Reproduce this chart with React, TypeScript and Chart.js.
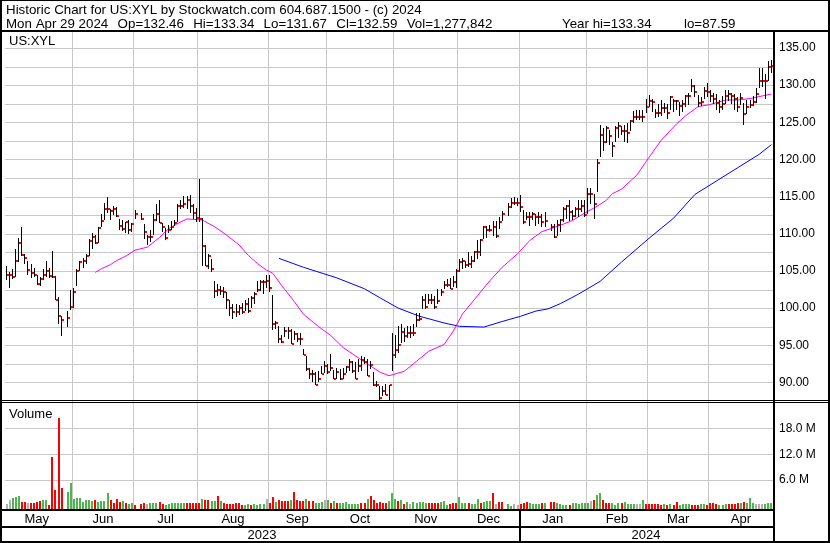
import React, { useEffect, useRef } from "react";
import { Chart, registerables } from "chart.js";

Chart.register(...registerables);

const FONT = "Arial, 'Liberation Sans', Helvetica, sans-serif";

const headerLine1 = "Historic Chart for US:XYL by Stockwatch.com 604.687.1500 - (c) 2024";
const headerFields = ["Mon Apr 29 2024", "Op=132.46", "Hi=133.34", "Lo=131.67", "Cl=132.59", "Vol=1,277,842", "Year hi=133.34", "lo=87.59"];
const symbolLabel = "US:XYL";
const volumeLabel = "Volume";

const monthNames = ["May", "Jun", "Jul", "Aug", "Sep", "Oct", "Nov", "Dec", "Jan", "Feb", "Mar", "Apr"];
const monthSlots = [22, 20, 21, 23, 19, 22, 21, 20, 22, 20, 20, 21];
const yearNames = ["2023", "2024"];
const yearFirstMonth = [0, 8];

const priceTicks = [90, 92.5, 95, 97.5, 100, 102.5, 105, 107.5, 110, 112.5, 115, 117.5, 120, 122.5, 125, 127.5, 130, 132.5, 135];
const volumeTicks = [6, 12, 18]; // millions

// daily highs
const highs: (number | null)[] = [
  105.6, 104.8, 105.3, 107.9, 109.5, 110.85, 107.3, 106.4, 106.0, 105.4, 104.4, 104.2, 105.2, 106.3, 105.4, 107.7, 104.3, 101.5, 98.9, null, 99.6, 102.5,
  102.7, 105.3, 106.4, 106.8, 107.3, 109.3, 110.1, 109.9, 110.9, 112.7, 114.1, 114.9, 113.3, 113.8, 113.6, 112.0, 111.8, 111.65, 111.9, 111.4,
  113.2, null, 112.8, 111.3, 109.9, 110.5, 112.6, 114.05, 114.5, 111.45, 110.8, 111.2, 111.7, 111.9, 114.05, 114.5, 115.1, 115.1, 115.2, 113.95, 113.5,
  117.4, 112.1, 108.5, 107.3, 106.6, 103.7, 103.3, 103.0, 102.8, 102.2, 101.1, 100.5, 100.5, 100.4, 100.7, 101.1, 101.3, 101.6, 102.1, 103.6, 103.8, 103.8, 104.4,
  104.46, 101.7, 98.3, 97.65, 96.4, 97.5, 97.5, 97.2, 96.95, 96.7, 96.7, 94.5, 93.6, 92.0, 91.7, 91.35, 91.6, 92.25, 92.9,
  92.5, 93.8, 91.7, 91.9, 91.8, 92.0, 92.25, 93.15, 92.9, 92.7, 93.15, 93.5, 93.4, 93.15, 92.9, 91.35, 90.2, 89.55, 89.55, 89.8, 89.65, 96.7,
  96.4, 97.6, 97.9, 97.36, 97.6, 97.6, 97.8, 99.4, 99.4, 101.65, 101.95, 101.9, 101.9, 101.65, 102.55, 102.55, 103.7, 103.9, 104.1, 104.35, 105.25,
  106.6, 106.8, 106.4, 107.5, 107.0, 107.7, 109.15, 109.3, 111.1, 111.1, 111.2, 111.75, 111.75, 112.3, 113.0, null, 114.2, 114.8, 114.9, 114.8,
  115.2, 113.2, 112.9, 112.9, 112.9, 112.7, 112.9, 112.7, 112.9, null, 111.35, 111.35, 111.85, 112.0, 113.6, 113.85, 114.5, 113.15, 113.6, 114.5, 114.5, 114.5,
  116.1, 116.1, 115.4, 120.0, 124.7, 124.2, 124.45, 124.0, 122.4, 124.45, 125.1, 124.45, 124.7, 124.9, 125.36, 126.5, 126.7, 126.7, 126.7, 128.16,
  128.65, 128.2, 126.85, 127.5, 127.98, 127.6, 127.5, 128.5, 128.2, 128.0, 127.75, 128.0, 128.65, 128.9, 130.8, 130.0, 128.65, 128.4, 129.8, 130.25,
  129.4, 129.0, 128.8, 128.0, 128.6, 129.3, 129.3, 129.0, 128.8, 128.4, 128.9, 127.6, 128.0, 128.0, 128.5, 129.6, 132.3, 132.3, 131.5, 133.2, 133.34,
];

// daily lows
const lows: (number | null)[] = [
  103.75, 102.7, 103.9, 104.2, 106.25, 107.0, 106.0, 104.5, 104.1, 104.2, 103.1, 103.0, 103.75, 104.2, 104.1, 104.0, 101.1, 97.9, 96.2, null, 97.5, 99.8,
  100.0, 103.0, 105.0, 105.4, 106.0, 107.0, 108.0, 108.6, 108.7, 110.9, 111.9, 112.8, 111.9, 112.5, 112.3, 110.5, 110.4, 110.1, 110.0, 110.2,
  112.0, null, 111.9, 109.3, 108.5, 108.9, 109.9, 111.7, 111.5, 110.3, 109.2, 110.1, 110.5, 111.0, 111.6, 113.3, 113.5, 113.3, 112.8, 112.0, 111.6,
  111.6, 105.6, 105.6, 105.3, 104.8, 101.4, 101.6, 101.8, 101.4, 99.9, 99.0, 98.5, 98.8, 99.1, 99.2, 99.6, 99.4, 100.0, 100.5, 102.2, 102.3, 101.9, 102.7,
  102.2, 97.0, 97.2, 95.3, 95.3, 96.1, 95.85, 95.2, 95.75, 95.4, 95.0, 93.7, 91.6, 90.45, 90.0, 89.6, 90.1, 91.1, 91.3,
  91.1, 91.6, 90.4, 90.45, 90.3, 90.45, 91.3, 91.6, 91.3, 90.45, 91.4, 91.6, 92.5, 90.8, 91.8, 89.5, 89.35, 87.7, 88.2, 88.35, 87.59, 91.6,
  93.3, 94.0, 95.3, 95.46, 96.0, 96.0, 96.2, 97.4, 98.3, 99.85, 99.9, 100.5, 100.6, 99.85, 100.5, 101.65, 102.55, 102.8, 102.55, 102.8, 102.7,
  104.8, 105.25, 105.4, 105.55, 105.4, 106.15, 106.6, 107.0, 109.3, 109.5, 110.2, 109.75, 109.5, 110.6, 111.75, null, 112.4, 113.5, 113.9, 113.8,
  112.9, 111.35, 111.8, 111.1, 111.8, 111.1, 111.3, 110.9, 110.9, null, 110.4, 109.5, 109.75, 110.2, 111.6, 112.0, 111.7, 111.9, 112.2, 112.2, 112.9, 112.3,
  112.7, 114.05, 112.0, 115.6, 120.4, 121.1, 122.2, 122.0, 120.4, 122.4, 122.9, 123.3, 122.4, 122.2, 123.77, 124.9, 125.36, 125.36, 125.1, 126.26,
  127.1, 126.4, 125.6, 125.7, 125.9, 126.3, 125.5, 126.6, 126.4, 126.6, 125.9, 126.4, 127.1, 127.3, 129.1, 128.4, 127.1, 127.2, 128.2, 128.4,
  127.8, 127.5, 126.7, 126.3, 126.6, 127.4, 127.9, 127.5, 126.6, 126.4, 127.3, 124.6, 126.1, 126.9, 127.2, 127.6, 129.6, 129.8, 128.2, 130.5, 131.67,
];

// daily closes
const closes: (number | null)[] = [
  104.5, 104.5, 104.2, 106.3, 108.8, 107.2, 106.7, 105.1, 104.7, 104.4, 103.2, 103.9, 104.4, 105.0, 104.3, 104.2, 101.1, 99.0, 98.4, null, 98.7, 100.2,
  102.2, 105.0, 106.2, 106.3, 107.0, 109.0, 109.6, 108.8, 110.75, 111.7, 113.3, 113.3, 113.1, 113.4, 112.4, 111.0, 110.6, 111.6, 110.5, 111.3,
  112.6, null, 112.0, 110.3, 109.6, 109.6, 111.8, 112.7, 111.5, 110.9, 109.5, 110.45, 110.9, 111.5, 113.7, 113.7, 113.95, 114.6, 113.7, 112.8, 112.1,
  112.0, 108.35, 105.7, 107.05, 105.2, 102.3, 102.4, 102.3, 102.2, 101.1, 100.0, 99.5, 99.5, 100.0, 99.5, 100.6, 99.65, 101.3, 101.85, 102.4, 103.55, 103.55, 103.7,
  102.75, 97.9, 98.0, 95.9, 95.5, 96.9, 96.9, 95.2, 96.5, 95.85, 95.85, 93.7, 91.8, 91.2, 91.2, 89.7, 90.45, 91.2, 92.2,
  91.35, 92.0, 90.4, 91.35, 90.4, 91.1, 92.1, 92.7, 91.6, 90.45, 92.2, 93.05, 92.8, 90.8, 92.35, 89.65, 89.7, 87.9, 88.9, 88.35, 89.65, 93.7,
  94.3, 95.0, 96.8, 96.2, 96.7, 96.7, 96.7, 98.4, 98.5, 101.1, 100.2, 101.1, 101.1, 100.2, 101.0, 102.1, 103.1, 103.1, 102.6, 103.45, 105.0,
  106.2, 106.3, 105.8, 106.0, 106.3, 107.6, 107.6, 109.1, 110.9, 110.55, 110.55, 110.9, 109.65, 111.6, 112.6, null, 113.55, 114.2, 114.2, 114.2,
  113.6, 111.6, 112.25, 112.2, 112.7, 112.2, 112.3, 111.6, 111.7, null, 110.9, 109.6, 111.25, 111.8, 113.4, 113.75, 112.9, 112.45, 113.3, 113.3, 113.75, 112.5,
  115.3, 115.3, 114.0, 119.55, 123.3, 122.4, 124.3, 123.2, 121.75, 124.2, 124.45, 123.8, 123.8, 123.55, 125.13, 125.67, 125.67, 125.67, 125.67, 127.07,
  127.85, 127.7, 126.2, 126.25, 126.9, 126.9, 126.2, 128.4, 127.9, 127.9, 127.25, 127.5, 128.55, 128.55, 129.9, 129.1, 127.65, 127.75, 129.25, 129.1,
  128.6, 128.2, 127.6, 127.0, 127.5, 128.5, 128.8, 128.5, 128.2, 127.1, 128.25, 126.1, 127.0, 127.3, 127.7, 128.8, 130.6, 130.6, 130.6, 132.4, 132.59,
];

// volume, read on the chart's axis (millions)
const volumes: (number | null)[] = [
  0.42, 1.35, 1.74, 1.97, 2.28, 0.88, 0.88, 0.65, 0.65, 0.65, 0.88, 1.19, 1.35, 1.35, 0.19, 11.43, 3.67, 20.35, 4.07, null, 3.29, 5.3,
  1.66, 1.81, 1.81, 0.88, 1.35, 1.35, 1.19, 1.35, 0.88, 1.12, 1.12, 2.98, 1.35, 0.65, 1.58, 0.88, 1.19, 0.65, 0.5, 0.65,
  0.19, null, 0.42, 0.65, 0.42, 0.65, 0.65, 0.65, 0.88, 0.42, 0.19, 0.42, 0.65, 0.65, 0.65, 0.65, 0.65, 0.65, 0.65, 0.65, 0.65,
  0.65, 1.58, 1.35, 1.35, 1.12, 1.12, 2.28, 1.12, 0.65, 0.42, 0.42, 0.42, 0.65, 0.65, 0.19, 0.19, 0.42, 0.19, 0.42, 0.19, 0.42, 0.42, 1.58,
  0.65, 2.05, 0.88, 1.43, 1.19, 1.19, 1.19, 1.35, 3.21, 1.35, 1.19, 1.19, 1.58, 1.19, 1.19, 0.65, 0.65, 0.88, 1.35,
  1.35, 0.65, 1.12, 0.65, 0.65, 0.65, 0.88, 0.42, 0.42, 0.42, 0.42, 0.65, 0.65, 1.58, 2.28, 1.35, 0.65, 0.88, 0.65, 0.65, 1.12, 2.98,
  1.58, 1.12, 1.35, 0.42, 0.88, 0.42, 0.88, 0.65, 0.88, 0.88, 0.65, 0.65, 0.65, 0.65, 0.65, 0.88, 1.12, 0.19, 0.42, 0.65, 0.65,
  2.05, 0.65, 0.65, 0.65, 0.42, 0.42, 1.58, 0.65, 0.88, 1.12, 1.12, 2.98, 0.42, 0.88, 0.88, null, 0.42, 0.02, 0.42, 0.19,
  0.42, 0.65, 0.88, 0.65, 0.42, 0.42, 0.42, 0.65, 0.65, null, 0.88, 0.88, 0.65, 0.42, 0.19, 0.19, 0.19, 0.65, 0.65, 0.42, 0.65, 0.65,
  0.65, 1.12, 1.35, 2.51, 2.98, 1.35, 0.65, 0.65, 0.65, 0.19, 0.65, 0.65, 0.88, 0.42, 0.42, 0.42, 0.42, 0.42, 1.35, 0.42,
  0.42, 0.42, 0.42, 0.42, 0.19, 0.42, 0.19, 0.42, 0.19, 0.88, 0.19, 0.42, 0.42, 0.42, 0.19, 0.19, 0.19, 0.42, 0.42, 0.19,
  0.65, 0.65, 0.42, 0.19, 0.19, 0.42, 0.42, 0.42, 0.42, 0.65, 0.65, 0.88, 0.65, 1.81, 0.65, 0.42, 0.42, 0.42, 0.42, 0.65, 0.57,
];

// 1 = up day, -1 = down day, 0 = unchanged
const volumeTrend = [
  0, 0, 1, 1, 1, -1, -1, 0, -1, -1, -1, -1, 1, 1, -1, -1, -1, -1, -1, 0, 1, 1,
  1, 1, 1, 1, 1, 1, 1, -1, 1, 1, 1, 1, -1, -1, -1, -1, 1, -1, 1, 1,
  -1, 0, -1, -1, 0, 1, 1, 1, -1, -1, 1, 1, 1, 1, 1, 1, 1, -1, -1, -1, -1,
  -1, 1, -1, -1, 1, 1, -1, 1, -1, -1, -1, -1, -1, -1, -1, 1, 1, -1, 1, 1, 1, 1, 0,
  -1, -1, 1, -1, -1, -1, -1, 1, -1, -1, -1, -1, 1, -1, -1, 1, 1, 1, 0,
  1, -1, 1, -1, 1, 1, 1, 1, 1, 1, 1, -1, -1, 1, -1, -1, -1, -1, -1, -1, 1, 1,
  1, -1, 1, -1, 1, 0, 1, 1, 1, 1, 1, -1, -1, -1, -1, 1, 1, 1, -1, -1, -1,
  1, 1, 1, -1, 1, 1, 1, -1, 1, 1, 1, -1, 0, -1, -1, 0, 1, 1, 0, 0,
  -1, -1, -1, 1, 1, 1, 1, -1, 1, 0, -1, -1, 1, 1, 1, 1, -1, 1, 1, 1, 1, 1,
  1, 0, -1, 1, 1, -1, -1, -1, 1, 1, 1, -1, 1, 1, 1, 1, 0, 0, 1, -1,
  -1, -1, -1, -1, -1, 1, -1, 1, -1, -1, 1, 1, 1, 1, -1, -1, -1, 1, 1, -1,
  -1, -1, -1, 1, 1, 1, -1, -1, -1, -1, 1, -1, 1, 1, 1, 0, 0, 0, 1, 1, 1,
];

// short moving average (magenta), sampled at bar index
const maShortIdx = [29, 31, 34, 36, 39, 42, 46, 50, 53, 56, 59, 64, 68, 72, 76, 79, 82, 85, 87, 90, 94, 97, 102, 106, 110, 115, 119, 122, 125, 130, 134, 138, 143, 146, 149, 154, 158, 162, 167, 171, 175, 178, 182, 185, 189, 193, 196, 198, 201, 206, 210, 214, 219, 222, 226, 230, 235, 239, 243, 250];
const maShortVal = [104.8, 105.3, 105.85, 106.4, 107.0, 107.8, 108.2, 109.5, 110.7, 111.4, 112.0, 111.85, 110.95, 109.8, 108.5, 107.1, 106.0, 105.1, 104.7, 103.0, 100.9, 99.2, 97.5, 96.3, 94.7, 93.3, 92.2, 91.4, 90.9, 91.5, 92.85, 94.2, 95.1, 96.9, 99.2, 101.7, 103.7, 105.5, 107.3, 109.1, 110.3, 110.7, 111.3, 111.8, 112.8, 113.7, 114.5, 115.4, 116.0, 117.9, 120.3, 122.6, 124.8, 125.9, 127.1, 127.4, 128.0, 128.0, 128.2, 128.8];

// long moving average (blue), sampled at bar index
const maLongIdx = [89, 97, 108, 117, 122, 128, 135, 143, 148, 156, 162, 168, 173, 177, 181, 187, 194, 201, 210, 218, 225, 232, 239, 246, 250];
const maLongVal = [106.7, 105.5, 104.06, 102.6, 101.4, 100.0, 98.9, 98.0, 97.55, 97.45, 98.2, 98.9, 99.6, 99.9, 100.6, 101.9, 103.6, 106.2, 109.4, 112.1, 115.3, 117.1, 118.9, 120.7, 122.0];

const PRICE_MIN = 87.5;
const PRICE_MAX = 137.153;
const VOL_MIN = -0.744;
const VOL_MAX = 24.37;

export default function App() {
  const ref = useRef<HTMLCanvasElement>(null);

  useEffect(() => {
    document.body.style.margin = "0";
    const canvas = ref.current!;
    const n = highs.length;

    const monthStart: number[] = [];
    let acc = 0;
    for (const c of monthSlots) {
      monthStart.push(acc);
      acc += c;
    }

    const tickImg = document.createElement("canvas");
    tickImg.width = 7;
    tickImg.height = 2;
    const tctx = tickImg.getContext("2d")!;
    tctx.fillStyle = "#ff0000";
    tctx.fillRect(4, 0, 2, 2);

    const GRID = "#c8c8c8";
    const volColors = volumeTrend.map((t) => (t > 0 ? "#4cb54c" : t < 0 ? "#ff0000" : "#b0b0b0"));
    const headerX = [6, 117.6, 193.2, 263.6, 336.3, 406.7, 562, 684];

    const plugin = {
      id: "stockFrame",
      beforeDraw(chart: any) {
        const ctx = chart.ctx;
        ctx.save();
        ctx.fillStyle = "#ffffff";
        ctx.fillRect(0, 0, chart.width, chart.height);
        ctx.restore();
      },
      beforeDatasetsDraw(chart: any) {
        const { ctx, chartArea, scales } = chart;
        ctx.save();
        ctx.fillStyle = GRID;
        const L = Math.round(chartArea.left);
        const R = Math.round(chartArea.right);
        for (const v of priceTicks) {
          const py = Math.round(scales.y.getPixelForValue(v));
          ctx.fillRect(L, py, R - L, 1);
        }
        for (const v of volumeTicks) {
          const py = Math.round(scales.vol.getPixelForValue(v));
          ctx.fillRect(L, py, R - L, 1);
        }
        ctx.restore();

        chart.data.datasets.forEach((ds: any, di: number) => {
          const meta = chart.getDatasetMeta(di);
          meta.data.forEach((el: any) => {
            if (ds.kind === "range") {
              el.x = Math.floor(el.x) + 0.5;
              el.y = Math.round(el.y);
              el.base = Math.round(el.base);
            } else if (ds.kind === "vol") {
              el.x = Math.round(el.x);
              el.y = Math.round(el.y);
              el.base = Math.round(el.base);
            } else if (ds.kind === "close") {
              el.x = Math.floor(el.x) + 0.5;
              el.y = Math.round(el.y);
            }
          });
        });
      },
      afterDraw(chart: any) {
        const { ctx, chartArea, scales } = chart;
        const W = chart.width;
        const H = chart.height;
        const R = Math.round(chartArea.right);
        const xs = scales.x;
        ctx.save();
        ctx.fillStyle = "#000";
        const fr = (x: number, y: number, w: number, h: number) => ctx.fillRect(x, y, w, h);
        fr(0, 0, W, 1);
        fr(0, 0, 2, H);
        fr(W - 2, 0, 2, H);
        fr(0, H - 2, W, 2);
        fr(0, 30, W, 2);
        fr(R, 30, 2, H - 30);
        const sepY = Math.round(scales.y.bottom);
        fr(0, sepY - 1, W, 1);
        fr(0, sepY + 1, W, 1);
        const vb = Math.round(chartArea.bottom);
        fr(0, vb, R + 2, 2);
        fr(0, vb + 17, R + 2, 2);
        for (let k = 1; k < yearFirstMonth.length; k++) {
          const px = Math.round(xs.getPixelForValue(monthStart[yearFirstMonth[k]] - 0.5));
          fr(px, vb, 2, H - vb);
        }

        ctx.fillStyle = "#000";
        ctx.textBaseline = "alphabetic";
        ctx.textAlign = "left";
        ctx.font = `13.33px ${FONT}`;
        ctx.fillText(headerLine1, 6, 14);
        headerFields.forEach((t, i) => ctx.fillText(t, headerX[i], 28));
        ctx.font = `13px ${FONT}`;
        ctx.fillText(symbolLabel, 9, 45);
        ctx.fillText(volumeLabel, 9, 418);

        ctx.textAlign = "center";
        for (let m = 0; m < monthNames.length; m++) {
          const a = xs.getPixelForValue(monthStart[m] - 0.5);
          const b = xs.getPixelForValue(monthStart[m] + monthSlots[m] - 0.5);
          ctx.fillText(monthNames[m], (a + b) / 2 - (m === 0 ? 2 : 0), vb + 14);
        }
        for (let k = 0; k < yearNames.length; k++) {
          const a = xs.getPixelForValue(monthStart[yearFirstMonth[k]] - 0.5);
          const endMonth = k + 1 < yearFirstMonth.length ? yearFirstMonth[k + 1] : monthNames.length;
          const b = endMonth < monthNames.length ? xs.getPixelForValue(monthStart[endMonth] - 0.5) : R;
          ctx.fillText(yearNames[k], (a + b) / 2, H - 4);
        }
        ctx.restore();
      },
    };

    const chart = new Chart(canvas, {
      type: "bar",
      data: {
        datasets: [
          {
            type: "line",
            label: "MA short",
            data: maShortIdx.map((x, i) => ({ x, y: maShortVal[i] })),
            borderColor: "#ff00ff",
            borderWidth: 1,
            pointRadius: 0,
            tension: 0,
            xAxisID: "x",
            yAxisID: "y",
            order: 5,
          } as any,
          {
            type: "line",
            label: "MA long",
            data: maLongIdx.map((x, i) => ({ x, y: maLongVal[i] })),
            borderColor: "#0000ff",
            borderWidth: 1,
            pointRadius: 0,
            tension: 0,
            xAxisID: "x",
            yAxisID: "y",
            order: 5,
          } as any,
          {
            type: "bar",
            kind: "range",
            label: "Range",
            data: highs.map((h, i) => ({ x: i, y: h == null || lows[i] == null ? null : [lows[i], h] })),
            backgroundColor: "#000000",
            borderWidth: 0,
            barThickness: 1,
            inflateAmount: 0,
            grouped: false,
            xAxisID: "x",
            yAxisID: "y",
            order: 3,
          } as any,
          {
            type: "scatter",
            kind: "close",
            label: "Close",
            data: closes.map((c, i) => ({ x: i, y: c })),
            pointStyle: tickImg,
            pointRadius: 1,
            showLine: false,
            xAxisID: "x",
            yAxisID: "y",
            order: 1,
          } as any,
          {
            type: "bar",
            kind: "vol",
            label: "Volume",
            data: volumes.map((v, i) => ({ x: i, y: v })),
            backgroundColor: volColors,
            borderWidth: 0,
            barThickness: 2,
            inflateAmount: 0,
            grouped: false,
            base: VOL_MIN,
            xAxisID: "x",
            yAxisID: "vol",
            order: 3,
          } as any,
        ],
      },
      options: {
        responsive: false,
        animation: false,
        devicePixelRatio: 1,
        layout: { padding: { left: 2, right: 2, top: 32, bottom: 0 } },
        plugins: { legend: { display: false }, tooltip: { enabled: false } },
        scales: {
          x: {
            type: "linear",
            offset: false,
            min: -0.5,
            max: n - 0.5,
            grid: { color: GRID, lineWidth: 1, drawTicks: false, offset: false },
            border: { display: false },
            ticks: { display: false },
            afterBuildTicks: (s: any) => {
              s.ticks = monthStart.slice(1).map((v) => ({ value: v - 0.5 }));
            },
            afterFit: (s: any) => {
              s.height = 34;
            },
          },
          y: {
            type: "linear",
            axis: "y",
            position: "right",
            stack: "panes",
            stackWeight: 369,
            min: PRICE_MIN,
            max: PRICE_MAX,
            grid: { display: false, drawTicks: false },
            border: { display: false },
            ticks: {
              color: "#000",
              padding: 6,
              font: { family: FONT, size: 12 },
              callback: (v: any) => Number(v).toFixed(2),
            },
            afterBuildTicks: (s: any) => {
              s.ticks = priceTicks.map((v) => ({ value: v }));
            },
            afterFit: (s: any) => {
              s.width = 55;
            },
          },
          vol: {
            type: "linear",
            axis: "y",
            position: "right",
            stack: "panes",
            stackWeight: 108,
            min: VOL_MIN,
            max: VOL_MAX,
            grid: { display: false, drawTicks: false },
            border: { display: false },
            ticks: {
              color: "#000",
              padding: 6,
              font: { family: FONT, size: 12 },
              callback: (v: any) => Number(v).toFixed(1) + " M",
            },
            afterBuildTicks: (s: any) => {
              s.ticks = volumeTicks.map((v) => ({ value: v }));
            },
            afterFit: (s: any) => {
              s.width = 55;
            },
          },
        } as any,
      },
      plugins: [plugin],
    } as any);

    return () => chart.destroy();
  }, []);

  return (
    <div style={{ position: "absolute", left: 0, top: 0, width: 830, height: 543, background: "#fff" }}>
      <canvas ref={ref} width={830} height={543} style={{ display: "block", width: 830, height: 543 }} />
    </div>
  );
}
